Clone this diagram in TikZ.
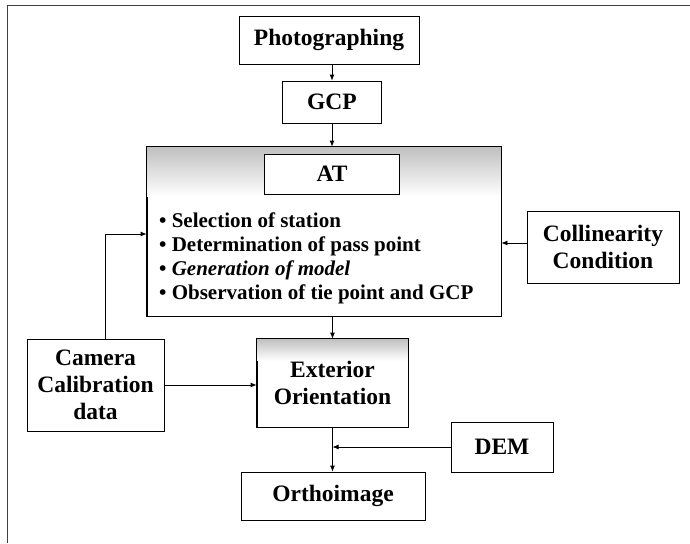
\documentclass[tikz,border=0pt]{standalone}
\usepackage{fontspec}
\setmainfont{Liberation Serif}
\usetikzlibrary{arrows.meta}

\tikzset{
  box/.style={draw, line width=0.8pt, fill=white, font=\fontsize{23.5}{27}\selectfont\bfseries, align=center, inner sep=0pt},
  arr/.style={line width=0.8pt, -{Latex[length=6pt,width=5pt]}}
}

\begin{document}
\begin{tikzpicture}[x=1pt,y=-1pt]
  \useasboundingbox (0,0) rectangle (690,543);
  % frame
  \draw[line width=0.8pt, black!75] (7,543) -- (7,5) -- (690,5);
  % boxes
  \node[box, minimum width=180pt, minimum height=48pt] (photo) at (329,40) {Photographing};
  \node[box, minimum width=99pt, minimum height=42pt] (gcp) at (332,102) {GCP};
  \node[box, minimum width=354pt, minimum height=169pt] (atbox) at (324,231.5) {};
  \shade[top color=gray!50, bottom color=white] (atbox.north west) rectangle ([yshift=-50pt]atbox.north east);
  \draw[line width=0.8pt] (atbox.north west) rectangle (atbox.south east);
  \node[box, minimum width=135pt, minimum height=40pt] (at) at (332,174) {AT};
  \node[anchor=west, inner sep=0pt, align=left, font=\fontsize{21}{24}\selectfont\bfseries] (steps) at (159,258.5)
    {\textbullet\ Selection of station\\
     \textbullet\ Determination of pass point\\
     \textbullet\ \textit{Generation of model}\\
     \textbullet\ Observation of tie point and GCP};
  \node[box, minimum width=152pt, minimum height=72pt] (coll) at (603,247) {Collinearity\\Condition};
  \node[box, minimum width=137pt, minimum height=92pt] (cam) at (95.5,385) {Camera\\Calibration\\data};
  \node[box, minimum width=151pt, minimum height=88pt] (ext) at (332.5,383) {};
  \shade[top color=gray!50, bottom color=white] (ext.north west) rectangle ([yshift=-22pt]ext.north east);
  \draw[line width=0.8pt] (ext.north west) rectangle (ext.south east);
  \node[font=\fontsize{23.5}{27}\selectfont\bfseries, align=center] (exttext) at (ext) {Exterior\\Orientation};
  \node[box, minimum width=102pt, minimum height=50pt] (dem) at (502,447) {DEM};
  \node[box, minimum width=184pt, minimum height=48pt] (ortho) at (333,496) {Orthoimage};
  % connectors
  \draw[arr] (photo.south -| gcp.north) -- (gcp.north);
  \draw[arr] (gcp.south) -- (gcp.south |- atbox.north);
  \draw[arr] (atbox.south -| ext.north) -- (ext.north);
  \draw[arr] ([yshift=4pt]coll.west) -- ([yshift=4pt]coll.west -| atbox.east);
  \draw[arr] ([xshift=9.5pt]cam.north) |- ([yshift=-2.5pt]atbox.west);
  \draw[arr] (cam.east) -- (cam.east -| ext.west);
  \draw[arr] (ext.south) -- (ext.south |- ortho.north);
  \draw[arr] (dem.west) -- (dem.west -| ext.south);
\end{tikzpicture}
\end{document}
